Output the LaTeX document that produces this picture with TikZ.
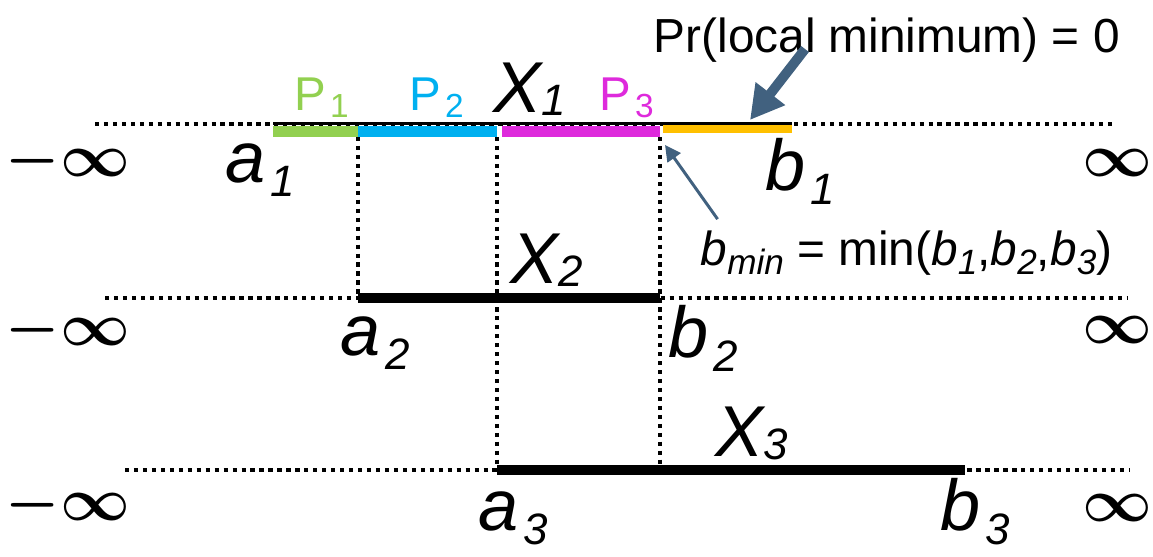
\documentclass[tikz,border=0pt]{standalone}
\usepackage{fontspec}
\usepackage{amsmath}
\setmainfont{Liberation Sans}
\usetikzlibrary{arrows.meta}
\definecolor{pgreen}{HTML}{92D050}
\definecolor{pblue}{HTML}{00B0F0}
\definecolor{pmagenta}{HTML}{DE2ADC}
\definecolor{pyellow}{HTML}{FFC000}
\definecolor{arrowblue}{HTML}{41617F}
% italic letter with a lowered italic index
\newcommand{\varsub}[3][0.2em]{\textit{#2}\kern0.06em\raisebox{-#1}{\fontsize{12.5}{12.5}\selectfont\itshape #3}}
\newcommand{\bigX}[1]{\textit{X}\kern-0.03em\raisebox{-0.05em}{\fontsize{12.5}{12.5}\selectfont\itshape #1}}
% upright piece label
\newcommand{\piece}[2]{#1\kern0.08em\raisebox{-0.16em}{\fontsize{9.5}{9.5}\selectfont #2}}
\newcommand{\smallidx}[1]{\raisebox{-0.2em}{\fontsize{10}{10}\selectfont\itshape #1}}
\tikzset{
  axis/.style={line width=1.3pt, dash pattern=on 1.2pt off 1.35pt},
  interval/.style={line width=3.1pt},
  bar/.style={line width=3.1pt},
  varlabel/.style={anchor=base west, inner sep=0pt, font=\fontsize{20.5}{20.5}\selectfont},
  inflabel/.style={inner sep=0pt, font=\fontsize{16.5}{16.5}\selectfont\boldmath},
  plabel/.style={anchor=base west, inner sep=0pt, font=\fontsize{13.5}{13.5}\selectfont},
  note/.style={anchor=base west, inner sep=0pt, font=\fontsize{13.6}{13.6}\selectfont},
}
\begin{document}
\begin{tikzpicture}
  \useasboundingbox (0,0) rectangle (11.53,5.56);
  % end points of the three intervals
  \coordinate (a1) at (2.73,4.33);
  \coordinate (b1) at (7.92,4.33);
  \coordinate (a2) at (3.58,2.58);
  \coordinate (b2) at (6.60,2.58);
  \coordinate (a3) at (4.97,0.86);
  \coordinate (b3) at (9.65,0.86);
  % real lines
  \draw[axis] (0.95,4.32) -- (11.12,4.32);
  \draw[axis] (1.05,2.58) -- (11.28,2.58);
  \draw[axis] (1.25,0.86) -- (11.30,0.86);
  % guides down from the cut points
  \draw[axis] (3.58,4.19) -- (a2);
  \draw[axis] (4.97,4.19) -- (a3);
  \draw[axis] (6.60,4.19) -- (6.60,0.86);
  % X_1 split into pieces
  \draw[bar, pgreen] (2.73,4.245) -- (3.58,4.245);
  \draw[bar, pblue] (3.58,4.245) -- (4.97,4.245);
  \draw[bar, pmagenta] (5.02,4.245) -- (6.60,4.245);
  \draw[bar, pyellow] (6.63,4.285) -- (7.92,4.285);
  \draw[line width=0.85pt] (a1) -- (b1);
  % X_2 and X_3
  \draw[interval] (a2) -- (b2);
  \draw[interval] (a3) -- (b3);
  % infinities
  \node[inflabel] (minf1) at (0.68,3.95) {$-\infty$};
  \node[inflabel] (minf2) at (0.68,2.26) {$-\infty$};
  \node[inflabel] (minf3) at (0.68,0.51) {$-\infty$};
  \node[inflabel] (pinf1) at (11.17,3.93) {$\infty$};
  \node[inflabel] (pinf2) at (11.17,2.26) {$\infty$};
  \node[inflabel] (pinf3) at (11.17,0.48) {$\infty$};
  % interval labels
  \node[varlabel] (x1lab) at (4.93,4.44) {\bigX{1}};
  \node[varlabel] (x2lab) at (5.10,2.73) {\bigX{2}};
  \node[varlabel] (x3lab) at (7.15,1.00) {\bigX{3}};
  \node[varlabel] (a1lab) at (2.25,3.74) {\varsub{a}{1}};
  \node[varlabel] (b1lab) at (7.65,3.66) {\varsub{b}{1}};
  \node[varlabel] (a2lab) at (3.40,2.01) {\varsub{a}{2}};
  \node[varlabel] (b2lab) at (6.68,1.99) {\varsub{b}{2}};
  \node[varlabel] (a3lab) at (4.78,0.26) {\varsub{a}{3}};
  \node[varlabel] (b3lab) at (9.40,0.26) {\varsub{b}{3}};
  \node[plabel, pgreen] (p1lab) at (2.94,4.46) {\piece{P}{1}};
  \node[plabel, pblue] (p2lab) at (4.09,4.46) {\piece{P}{2}};
  \node[plabel, pmagenta] (p3lab) at (5.99,4.46) {\piece{P}{3}};
  % notes
  \node[note] (prlab) at (6.53,5.04) {Pr(local minimum) = 0};
  \node[note] (bminlab) at (7.00,2.91) {\textit{b}\smallidx{min} = min(\textit{b}\smallidx{1},\textit{b}\smallidx{2},\textit{b}\smallidx{3})};
  \coordinate (bmin) at (6.65,4.11);
  \coordinate (yellowpt) at (7.50,4.36);
  \draw[arrowblue, line width=2.8pt, -{Triangle[width=10pt,length=9.5pt]}] ([xshift=1.52cm,yshift=0.03cm]prlab.base west) -- (yellowpt);
  \draw[arrowblue, line width=0.85pt, -{Triangle[width=4.5pt,length=4.5pt]}] ([xshift=5pt,yshift=3pt]bminlab.north west) -- (bmin);
\end{tikzpicture}
\end{document}
